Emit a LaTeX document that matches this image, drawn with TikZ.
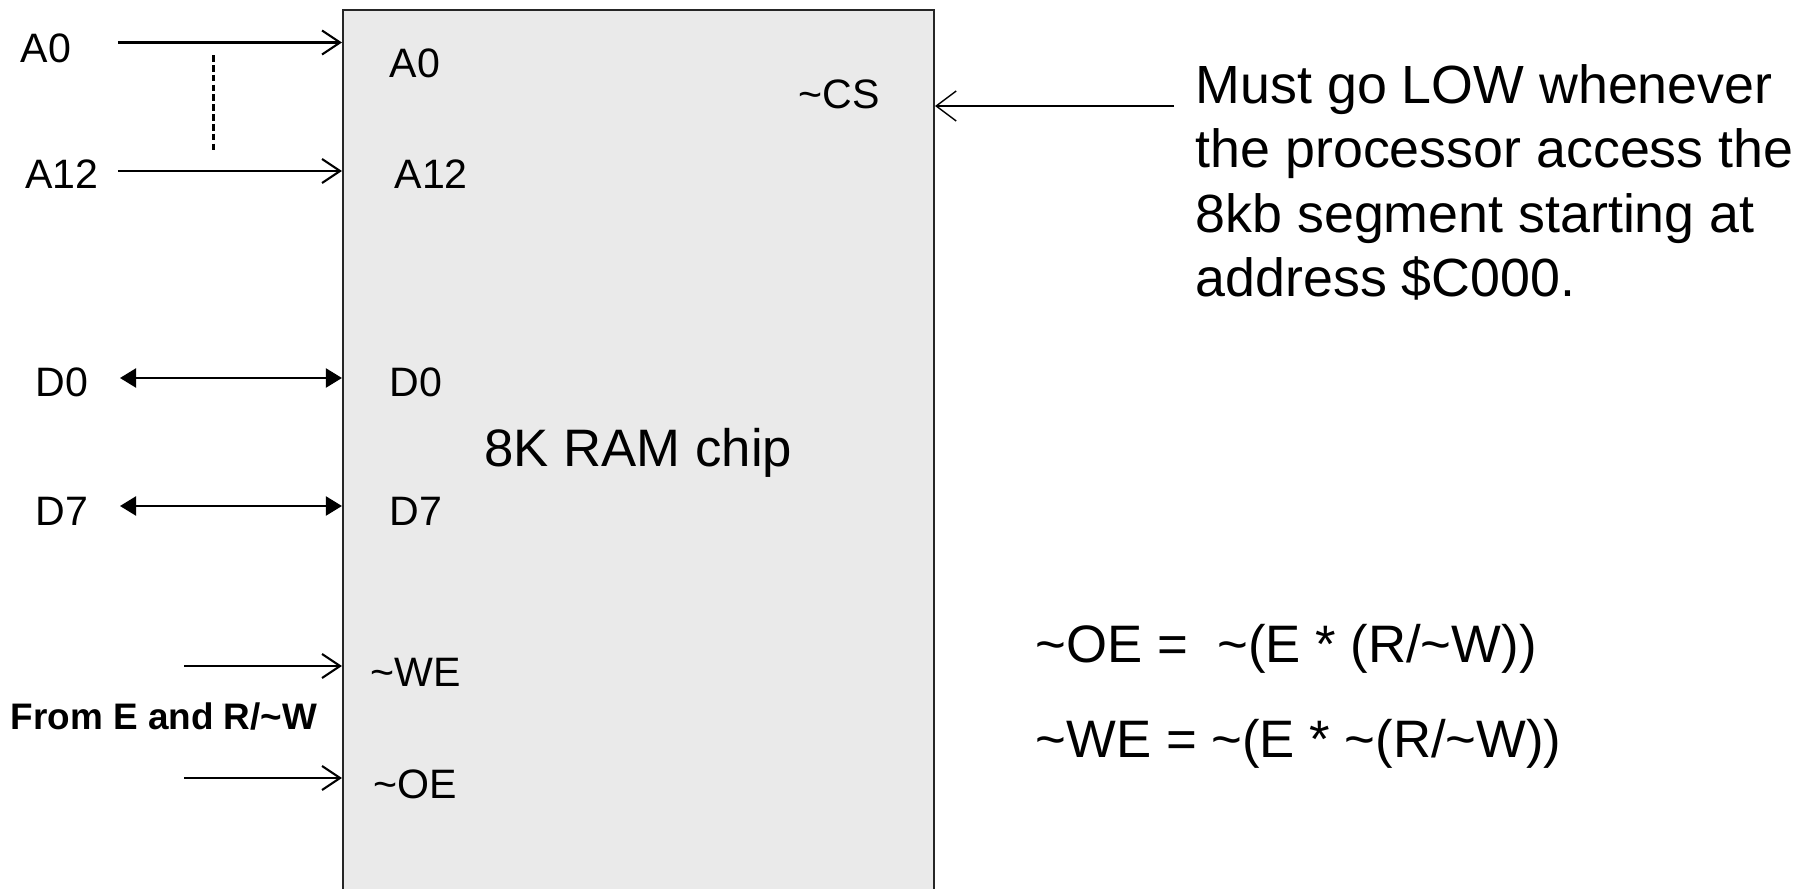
\documentclass[tikz,border=0pt]{standalone}
\usepackage{fontspec}
\setmainfont{Liberation Sans}
\usepackage{xcolor}
\usetikzlibrary{
  arrows.meta,
  positioning,
  calc
}
\definecolor{chipgray}{RGB}{234,234,234}
\newcommand{\nsig}{\textasciitilde}
\newcommand{\pinfont}{\fontsize{11.7}{14}\selectfont}
\tikzset{
  chip/.style={
    draw=black!85, fill=chipgray, line width=0.6pt,
    minimum width=5.91cm, minimum height=8.86cm,
    inner sep=0pt,
    font=\fontsize{15}{18}\selectfont
  },
  pin label/.style={
    inner sep=0pt, font=\pinfont
  },
  pin in/.style={
    -{Straight Barb[length=0.18cm, width=0.24cm]}, line width=0.6pt
  },
  bus line/.style={
    {Triangle[length=0.16cm, width=0.19cm]}-{Triangle[length=0.16cm, width=0.19cm]},
    line width=0.6pt
  },
  select arrow/.style={
    -{Straight Barb[length=0.2cm, width=0.3cm]}, line width=0.4pt
  },
  note/.style={
    inner sep=0pt, align=left,
    font=\fontsize{15.3}{18.3}\selectfont
  },
  equation/.style={
    inner sep=0pt, font=\fontsize{15}{18}\selectfont
  },
}

\begin{document}
\begin{tikzpicture}

  \useasboundingbox (0,0) rectangle (18,8.88);

  \node[chip] (chip) at (6.385,4.35) {8K RAM chip};

  % Address lines
  \node[pin label] (a0ext) at (0.46,8.40) {A0};
  \node[pin label] (a12ext) at (0.62,7.14) {A12};
  \coordinate (a0src) at (1.18,8.455);
  \coordinate (a12src) at (1.18,7.17);
  \draw[pin in] (a0src) -- (a0src -| chip.west);
  \draw[pin in] (a12src) -- (a12src -| chip.west);
  \draw[dashed, dash pattern=on 1.9pt off 0.9pt, line width=0.6pt]
    (2.135,8.33) -- (2.135,7.38);
  \node[pin label, anchor=west] (a0pin) at (3.89,8.25) {A0};
  \node[pin label, anchor=west] (a12pin) at (3.94,7.14) {A12};

  % Data lines
  \node[pin label] (d0ext) at (0.62,5.06) {D0};
  \node[pin label] (d7ext) at (0.62,3.77) {D7};
  \coordinate (d0src) at (1.20,5.10);
  \coordinate (d7src) at (1.20,3.82);
  \draw[bus line] (d0src) -- (d0src -| chip.west);
  \draw[bus line] (d7src) -- (d7src -| chip.west);
  \node[pin label, anchor=west] (d0pin) at (3.89,5.06) {D0};
  \node[pin label, anchor=west] (d7pin) at (3.89,3.77) {D7};

  % Control lines
  \coordinate (wesrc) at (1.84,2.22);
  \coordinate (oesrc) at (1.84,1.10);
  \draw[pin in] (wesrc) -- (wesrc -| chip.west);
  \draw[pin in] (oesrc) -- (oesrc -| chip.west);
  \node[pin label, anchor=west] (wepin) at (3.70,2.16) {\nsig WE};
  \node[pin label, anchor=west] (oepin) at (3.73,1.04) {\nsig OE};
  \node[inner sep=0pt, font=\fontsize{10.5}{12}\selectfont\bfseries]
    (ctrlsrc) at (1.64,1.72) {From E and R/\nsig W};

  % Chip select
  \node[pin label] (cspin) at (8.39,7.94) {\nsig CS};
  \coordinate (cssrc) at (11.74,7.82);
  \draw[select arrow] (cssrc) -- (cssrc -| chip.east);
  \node[note, anchor=west] (csnote) at (11.95,7.055)
    {Must go LOW whenever\\the processor access the\\8kb segment starting at\\address \$C000.};

  % Enable equations
  \node[equation, anchor=west] (oeeq) at (10.35,2.39)
    {\nsig OE = \ \nsig(E * (R/\nsig W))};
  \node[equation, anchor=west] (weeq) at (10.35,1.44)
    {\nsig WE = \nsig(E * \nsig(R/\nsig W))};

\end{tikzpicture}
\end{document}
